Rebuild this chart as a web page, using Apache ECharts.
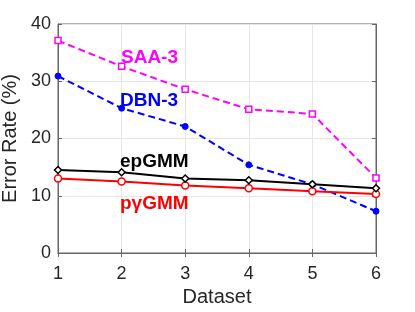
<!DOCTYPE html>
<html><head><meta charset="utf-8">
<script src="https://cdn.jsdelivr.net/npm/echarts@6/dist/echarts.min.js"></script>
<style>html,body{margin:0;padding:0;background:#fff}#c{width:415px;height:312px}</style>
</head><body><div id="c"></div>
<script>
const datasets = [1, 2, 3, 4, 5, 6];
const saa3 = [37.1, 32.6, 28.6, 25.1, 24.3, 13.1];
const dbn3 = [30.9, 25.3, 22.1, 15.4, 12.0, 7.3];
const epGMM = [14.5, 14.1, 13.0, 12.7, 12.0, 11.3];
const pgGMM = [13.0, 12.5, 11.8, 11.3, 10.8, 10.3];
const yTicks = [0, 10, 20, 30, 40];

const pairs = arr => datasets.map((d, i) => [d, arr[i]]);
const font = '"Liberation Sans", Arial, sans-serif';
const chart = echarts.init(document.getElementById('c'), null, {renderer: 'canvas'});
const axisCol = '#666';
chart.setOption({
  animation: false,
  grid: {left: 58, right: 39, top: 24, bottom: 59, show: true, borderColor: axisCol, borderWidth: 1,
    containLabel: false, outerBoundsMode: 'none'},
  xAxis: [{
    type: 'value', min: 1, max: 6, interval: 1,
    name: 'Dataset', nameLocation: 'middle', nameGap: 34,
    nameTextStyle: {fontFamily: font, fontSize: 20, color: '#262626'},
    axisLine: {show: true, lineStyle: {color: axisCol}},
    axisTick: {show: true, inside: true, length: 4, lineStyle: {color: axisCol}},
    axisLabel: {fontFamily: font, fontSize: 18, color: '#262626', margin: 12},
    splitLine: {show: true, lineStyle: {color: '#e6e6e6', width: 1}}
  }, {
    type: 'value', min: 1, max: 6, interval: 1, position: 'top',
    axisLine: {show: true, lineStyle: {color: axisCol}},
    axisTick: {show: true, inside: true, length: 4, lineStyle: {color: axisCol}},
    axisLabel: {show: false}, splitLine: {show: false}
  }],
  yAxis: [{
    type: 'value', min: 0, max: 40, interval: 10,
    name: 'Error Rate (%)', nameLocation: 'middle', nameGap: 26,
    nameTextStyle: {fontFamily: font, fontSize: 20, color: '#262626'},
    axisLine: {show: true, lineStyle: {color: axisCol}},
    axisTick: {show: true, inside: true, length: 4, lineStyle: {color: axisCol}},
    axisLabel: {fontFamily: font, fontSize: 18, color: '#262626', margin: 7,
      formatter: v => yTicks.includes(v) ? String(v) : ''},
    splitLine: {show: true, lineStyle: {color: '#e6e6e6', width: 1}}
  }, {
    type: 'value', min: 0, max: 40, interval: 10, position: 'right',
    axisLine: {show: true, lineStyle: {color: axisCol}},
    axisTick: {show: true, inside: true, length: 4, lineStyle: {color: axisCol}},
    axisLabel: {show: false}, splitLine: {show: false}
  }],
  series: [
    {name: 'SAA-3', type: 'line', data: pairs(saa3), symbol: 'rect', symbolSize: 6,
      itemStyle: {color: '#fff', borderColor: '#ff00ff', borderWidth: 1.5},
      lineStyle: {color: '#ff00ff', width: 2, type: [7, 4]}, z: 3},
    {name: 'DBN-3', type: 'line', data: pairs(dbn3), symbol: 'circle', symbolSize: 6,
      itemStyle: {color: '#0000ff', borderColor: '#0000ff', borderWidth: 1},
      lineStyle: {color: '#0000ff', width: 2, type: [7, 4]}, z: 3},
    {name: 'epGMM', type: 'line', data: pairs(epGMM), symbol: 'diamond', symbolSize: 7,
      itemStyle: {color: '#fff', borderColor: '#000', borderWidth: 1.5},
      lineStyle: {color: '#000', width: 2}, z: 4},
    {name: 'pγGMM', type: 'line', data: pairs(pgGMM), symbol: 'circle', symbolSize: 7,
      itemStyle: {color: '#fff', borderColor: '#ff0000', borderWidth: 1.5},
      lineStyle: {color: '#ff0000', width: 2}, z: 3}
  ],
  graphic: [
    {type: 'text', z: 100, left: 121, top: 48, style: {text: 'SAA-3', fill: '#ff00ff', font: 'bold 19px ' + font}},
    {type: 'text', z: 100, left: 120, top: 91, style: {text: 'DBN-3', fill: '#0000ff', font: 'bold 19px ' + font}},
    {type: 'text', z: 100, left: 120, top: 152, style: {text: 'epGMM', fill: '#000', font: 'bold 19px ' + font}},
    {type: 'text', z: 100, left: 120, top: 194, style: {text: 'pγGMM', fill: '#ff0000', font: 'bold 19px ' + font}}
  ]
});
</script></body></html>
